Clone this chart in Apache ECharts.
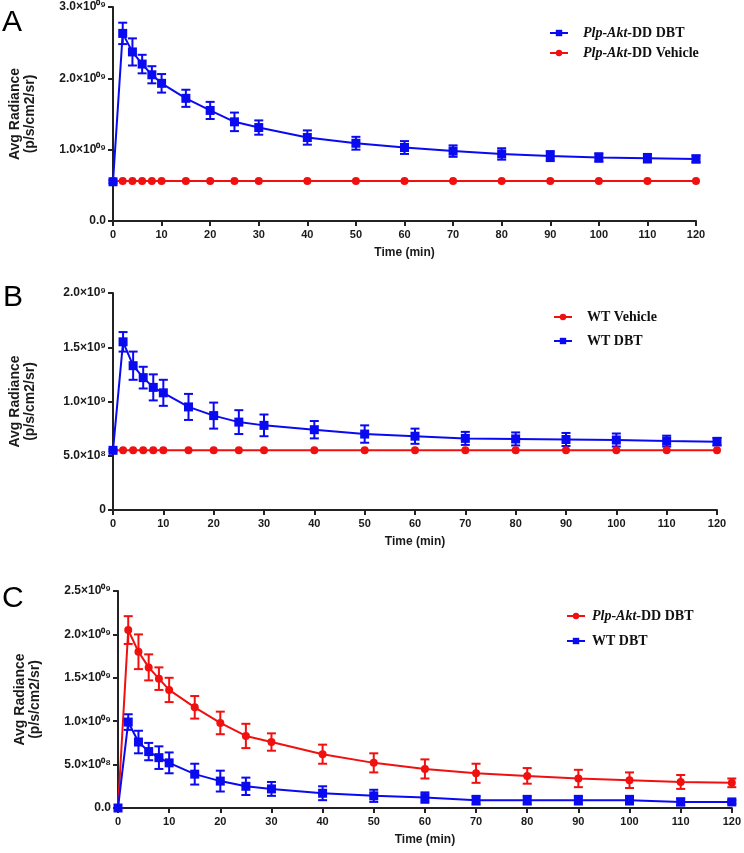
<!DOCTYPE html>
<html><head><meta charset="utf-8">
<script src="https://cdn.jsdelivr.net/npm/echarts@6/dist/echarts.min.js"></script>
<style>html,body{margin:0;padding:0;background:#fff}#c{width:744px;height:853px}</style>
</head><body><div id="c"></div>
<script>
const times = [0,2,4,6,8,10,15,20,25,30,40,50,60,70,80,90,100,110,120];
const xTicks = [0,10,20,30,40,50,60,70,80,90,100,110,120];

// Panel A (units: 1e9 p/s/cm2/sr)
const aDbt    = [0.55,2.63,2.37,2.20,2.05,1.93,1.72,1.55,1.39,1.31,1.17,1.09,1.03,0.98,0.94,0.91,0.89,0.88,0.87];
const aDbtErr = [0.02,0.15,0.19,0.13,0.12,0.13,0.12,0.12,0.13,0.10,0.10,0.09,0.09,0.08,0.08,0.07,0.06,0.06,0.05];
const aVeh    = [0.56,0.56,0.56,0.56,0.56,0.56,0.56,0.56,0.56,0.56,0.56,0.56,0.56,0.56,0.56,0.56,0.56,0.56,0.56];
const aYTicks = ['0.0','1.0×10⁰⁹','2.0×10⁰⁹','3.0×10⁰⁹'];

// Panel B
const bVeh    = [0.55,0.55,0.55,0.55,0.55,0.55,0.55,0.55,0.55,0.55,0.55,0.55,0.55,0.55,0.55,0.55,0.55,0.55,0.55];
const bDbt    = [0.55,1.55,1.33,1.22,1.13,1.08,0.95,0.87,0.81,0.78,0.74,0.70,0.68,0.66,0.655,0.65,0.645,0.635,0.63];
const bDbtErr = [0.01,0.09,0.13,0.10,0.12,0.12,0.12,0.12,0.11,0.10,0.08,0.08,0.07,0.06,0.06,0.06,0.06,0.05,0.035];
const bYTicks = ['0','5.0×10⁸','1.0×10⁹','1.5×10⁹','2.0×10⁹'];

// Panel C
const cAkt    = [0,2.05,1.80,1.62,1.49,1.36,1.16,0.98,0.83,0.76,0.62,0.52,0.45,0.40,0.37,0.34,0.32,0.30,0.29];
const cAktErr = [0,0.16,0.20,0.15,0.13,0.14,0.13,0.13,0.14,0.10,0.11,0.11,0.11,0.11,0.09,0.10,0.09,0.08,0.05];
const cWt     = [0,0.99,0.76,0.65,0.58,0.52,0.39,0.31,0.25,0.22,0.17,0.14,0.12,0.09,0.09,0.09,0.09,0.07,0.07];
const cWtErr  = [0,0.09,0.13,0.10,0.13,0.12,0.12,0.12,0.10,0.08,0.08,0.07,0.06,0.05,0.05,0.05,0.05,0.04,0.02];
const cYTicks = ['0.0','5.0×10⁰⁸','1.0×10⁰⁹','1.5×10⁰⁹','2.0×10⁰⁹','2.5×10⁰⁹'];

const legendText = {
  aDbt: '{g|}{i|Plp-Akt}{n|-DD DBT}',
  aVeh: '{g|}{i|Plp-Akt}{n|-DD Vehicle}',
  bVeh: '{g|}{n|WT Vehicle}',
  bDbt: '{g|}{n|WT DBT}',
  cAkt: '{h|}{i|Plp-Akt}{n|-DD DBT}',
  cWt:  '{h|}{n|WT DBT}'
};

const BLUE = '#0a0af0', RED = '#f01010', AX = '#222';
const E9 = 1e9;

const chart = echarts.init(document.getElementById('c'), null, {renderer:'canvas'});

const grids = [
  {left:107, top:7, width:589, height:214},
  {left:108, top:293, width:609, height:217},
  {left:118, top:591, width:614, height:217}
];
const yCfg = [
  {max:3, interval:1, ticks:aYTicks},
  {max:2, interval:0.5, ticks:bYTicks},
  {max:2.5, interval:0.5, ticks:cYTicks}
];

const xAxes = grids.map((g,i)=>({
  type:'value', gridIndex:i, min:0, max:120, interval:10,
  name:'Time (min)', nameLocation:'middle', nameGap:26,
  nameTextStyle:{fontFamily:'Liberation Sans, Arial', fontWeight:'bold', fontSize:12, color:'#1a1a1a'},
  axisLine:{lineStyle:{color:AX, width:2}},
  axisTick:{show:true, length:5, lineStyle:{color:AX, width:2}},
  axisLabel:{fontFamily:'Liberation Sans, Arial', fontWeight:'bold', fontSize:11, color:'#1a1a1a', margin:8},
  splitLine:{show:false}
}));
const yAxes = yCfg.map((c,i)=>({
  type:'value', gridIndex:i, min:0, max:c.max*E9, interval:c.interval*E9,
  name:'Avg Radiance\n(p/s/cm2/sr)', nameLocation:'middle', nameGap:75, nameRotate:90,
  nameTextStyle:{fontFamily:'Liberation Sans, Arial', fontWeight:'bold', fontSize:14, color:'#1a1a1a', lineHeight:15},
  axisLine:{show:true, lineStyle:{color:AX, width:2}},
  axisTick:{show:true, length:5, lineStyle:{color:AX, width:2}},
  axisLabel:{fontFamily:'Liberation Sans, Arial', fontWeight:'bold', fontSize:12, color:'#1a1a1a', margin:7,
    formatter:(v)=>{ const k=Math.round(v/(c.interval*E9)); return c.ticks[k]!==undefined?c.ticks[k]:''; }},
  splitLine:{show:false}
}));

function pts(vals){ return times.map((t,i)=>[t, vals[i]*E9]); }
function errs(vals, e){ return times.map((t,i)=>[t, (vals[i]-e[i])*E9, (vals[i]+e[i])*E9]); }

function lineSeries(name, gi, vals, color, symbol, size){
  return {type:'line', name, xAxisIndex:gi, yAxisIndex:gi, data:pts(vals),
    symbol, symbolSize:size, showSymbol:true,
    lineStyle:{color, width:2}, itemStyle:{color}, z:3, animation:false};
}
function errSeries(gi, vals, e, color){
  return {type:'custom', xAxisIndex:gi, yAxisIndex:gi, data:errs(vals,e), z:2, animation:false,
    encode:{x:0, y:[1,2]}, silent:true,
    renderItem:(params, api)=>{
      const x=api.value(0);
      const lo=api.coord([x, api.value(1)]);
      const hi=api.coord([x, api.value(2)]);
      const w=4.5;
      const st={stroke:color, lineWidth:2};
      return {type:'group', children:[
        {type:'line', shape:{x1:lo[0],y1:lo[1],x2:hi[0],y2:hi[1]}, style:st},
        {type:'line', shape:{x1:lo[0]-w,y1:lo[1],x2:lo[0]+w,y2:lo[1]}, style:st},
        {type:'line', shape:{x1:hi[0]-w,y1:hi[1],x2:hi[0]+w,y2:hi[1]}, style:st}
      ]};
    }};
}

const legTS = {fontFamily:'Liberation Serif, Times New Roman', fontWeight:'bold', fontSize:14, color:'#111',
  rich:{ i:{fontFamily:'Liberation Serif', fontStyle:'italic', fontWeight:'bold', fontSize:14, color:'#111'},
         n:{fontFamily:'Liberation Serif', fontWeight:'bold', fontSize:14, color:'#111'},
         g:{width:10}, h:{width:2} }};
function legend(data, left, top, gap){
  return {data, left, top, orient:'vertical', itemWidth:18, itemHeight:8, itemGap:gap,
    formatter:(n)=>legendText[n], textStyle:legTS, selectedMode:false};
}

const letterStyle = {fontFamily:'Liberation Sans, Arial', fontSize:30, fill:'#000'};

chart.setOption({
  animation:false,
  grid:grids,
  xAxis:xAxes,
  yAxis:yAxes,
  legend:[
    legend(['aDbt','aVeh'], 544, 21, 6),
    legend(['bVeh','bDbt'], 548, 305, 10),
    legend(['cAkt','cWt'], 561, 604, 11)
  ],
  graphic:[
    {type:'text', left:2, top:8, style:Object.assign({text:'A'}, letterStyle)},
    {type:'text', left:3, top:283, style:Object.assign({text:'B'}, letterStyle)},
    {type:'text', left:2, top:584, style:Object.assign({text:'C'}, letterStyle)}
  ],
  series:[
    lineSeries('aVeh',0,aVeh,RED,'circle',8),
    errSeries(0,aDbt,aDbtErr,BLUE),
    lineSeries('aDbt',0,aDbt,BLUE,'rect',9),
    lineSeries('bVeh',1,bVeh,RED,'circle',8),
    errSeries(1,bDbt,bDbtErr,BLUE),
    lineSeries('bDbt',1,bDbt,BLUE,'rect',9),
    errSeries(2,cAkt,cAktErr,RED),
    lineSeries('cAkt',2,cAkt,RED,'circle',8),
    errSeries(2,cWt,cWtErr,BLUE),
    lineSeries('cWt',2,cWt,BLUE,'rect',9)
  ]
});
</script></body></html>
